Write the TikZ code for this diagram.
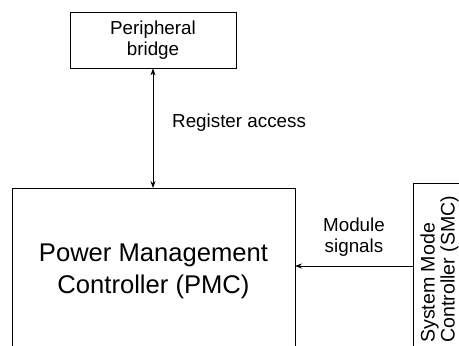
\documentclass[tikz,border=0pt]{standalone}
\usepackage{fontspec}
\setmainfont{Liberation Sans}
\usetikzlibrary{arrows.meta}

\begin{document}
\begin{tikzpicture}[x=1pt,y=-1pt,
  block/.style={draw, line width=0.8pt, inner sep=0pt},
  link/.style={line width=0.8pt},
  lbl/.style={font=\fontsize{18.8}{20.5}\selectfont, align=center}]
  \useasboundingbox (0,0) rectangle (459,346);
  \clip (0,0) rectangle (459,346);

  \node [block, minimum width=166pt, minimum height=56pt, lbl] (bridge) at (153,40) {Peripheral\\bridge};
  \node [block, minimum width=283pt, minimum height=200pt] (pmc) at (153.5,288) {};
  \node [font=\fontsize{25.6}{32}\selectfont, align=center] (pmctext) at (153.5,271) {Power Management\\Controller (PMC)};
  \node [block, minimum width=80pt, minimum height=200pt] (smc) at (453,283) {};
  \node [font=\fontsize{19.6}{20}\selectfont, rotate=90, anchor=west, align=left, inner sep=0pt] (smctext) at (439.5,343) {System Mode\\Controller (SMC)};

  \coordinate (pmctop) at (153,188);
  \coordinate (smcin) at (413,266);
  \coordinate (pmcin) at (295,266);

  \draw [link, {Stealth[length=7pt,width=5pt]}-{Stealth[length=7pt,width=5pt]}] (bridge.south) -- (pmctop);
  \draw [link, -{Stealth[length=7pt,width=5pt]}] (smcin) -- (pmcin);

  \node [lbl, anchor=west, inner sep=0pt] (regacc) at (172,123) {Register access};
  \node [lbl] (modsig) at (354,237) {Module\\signals};
\end{tikzpicture}
\end{document}
